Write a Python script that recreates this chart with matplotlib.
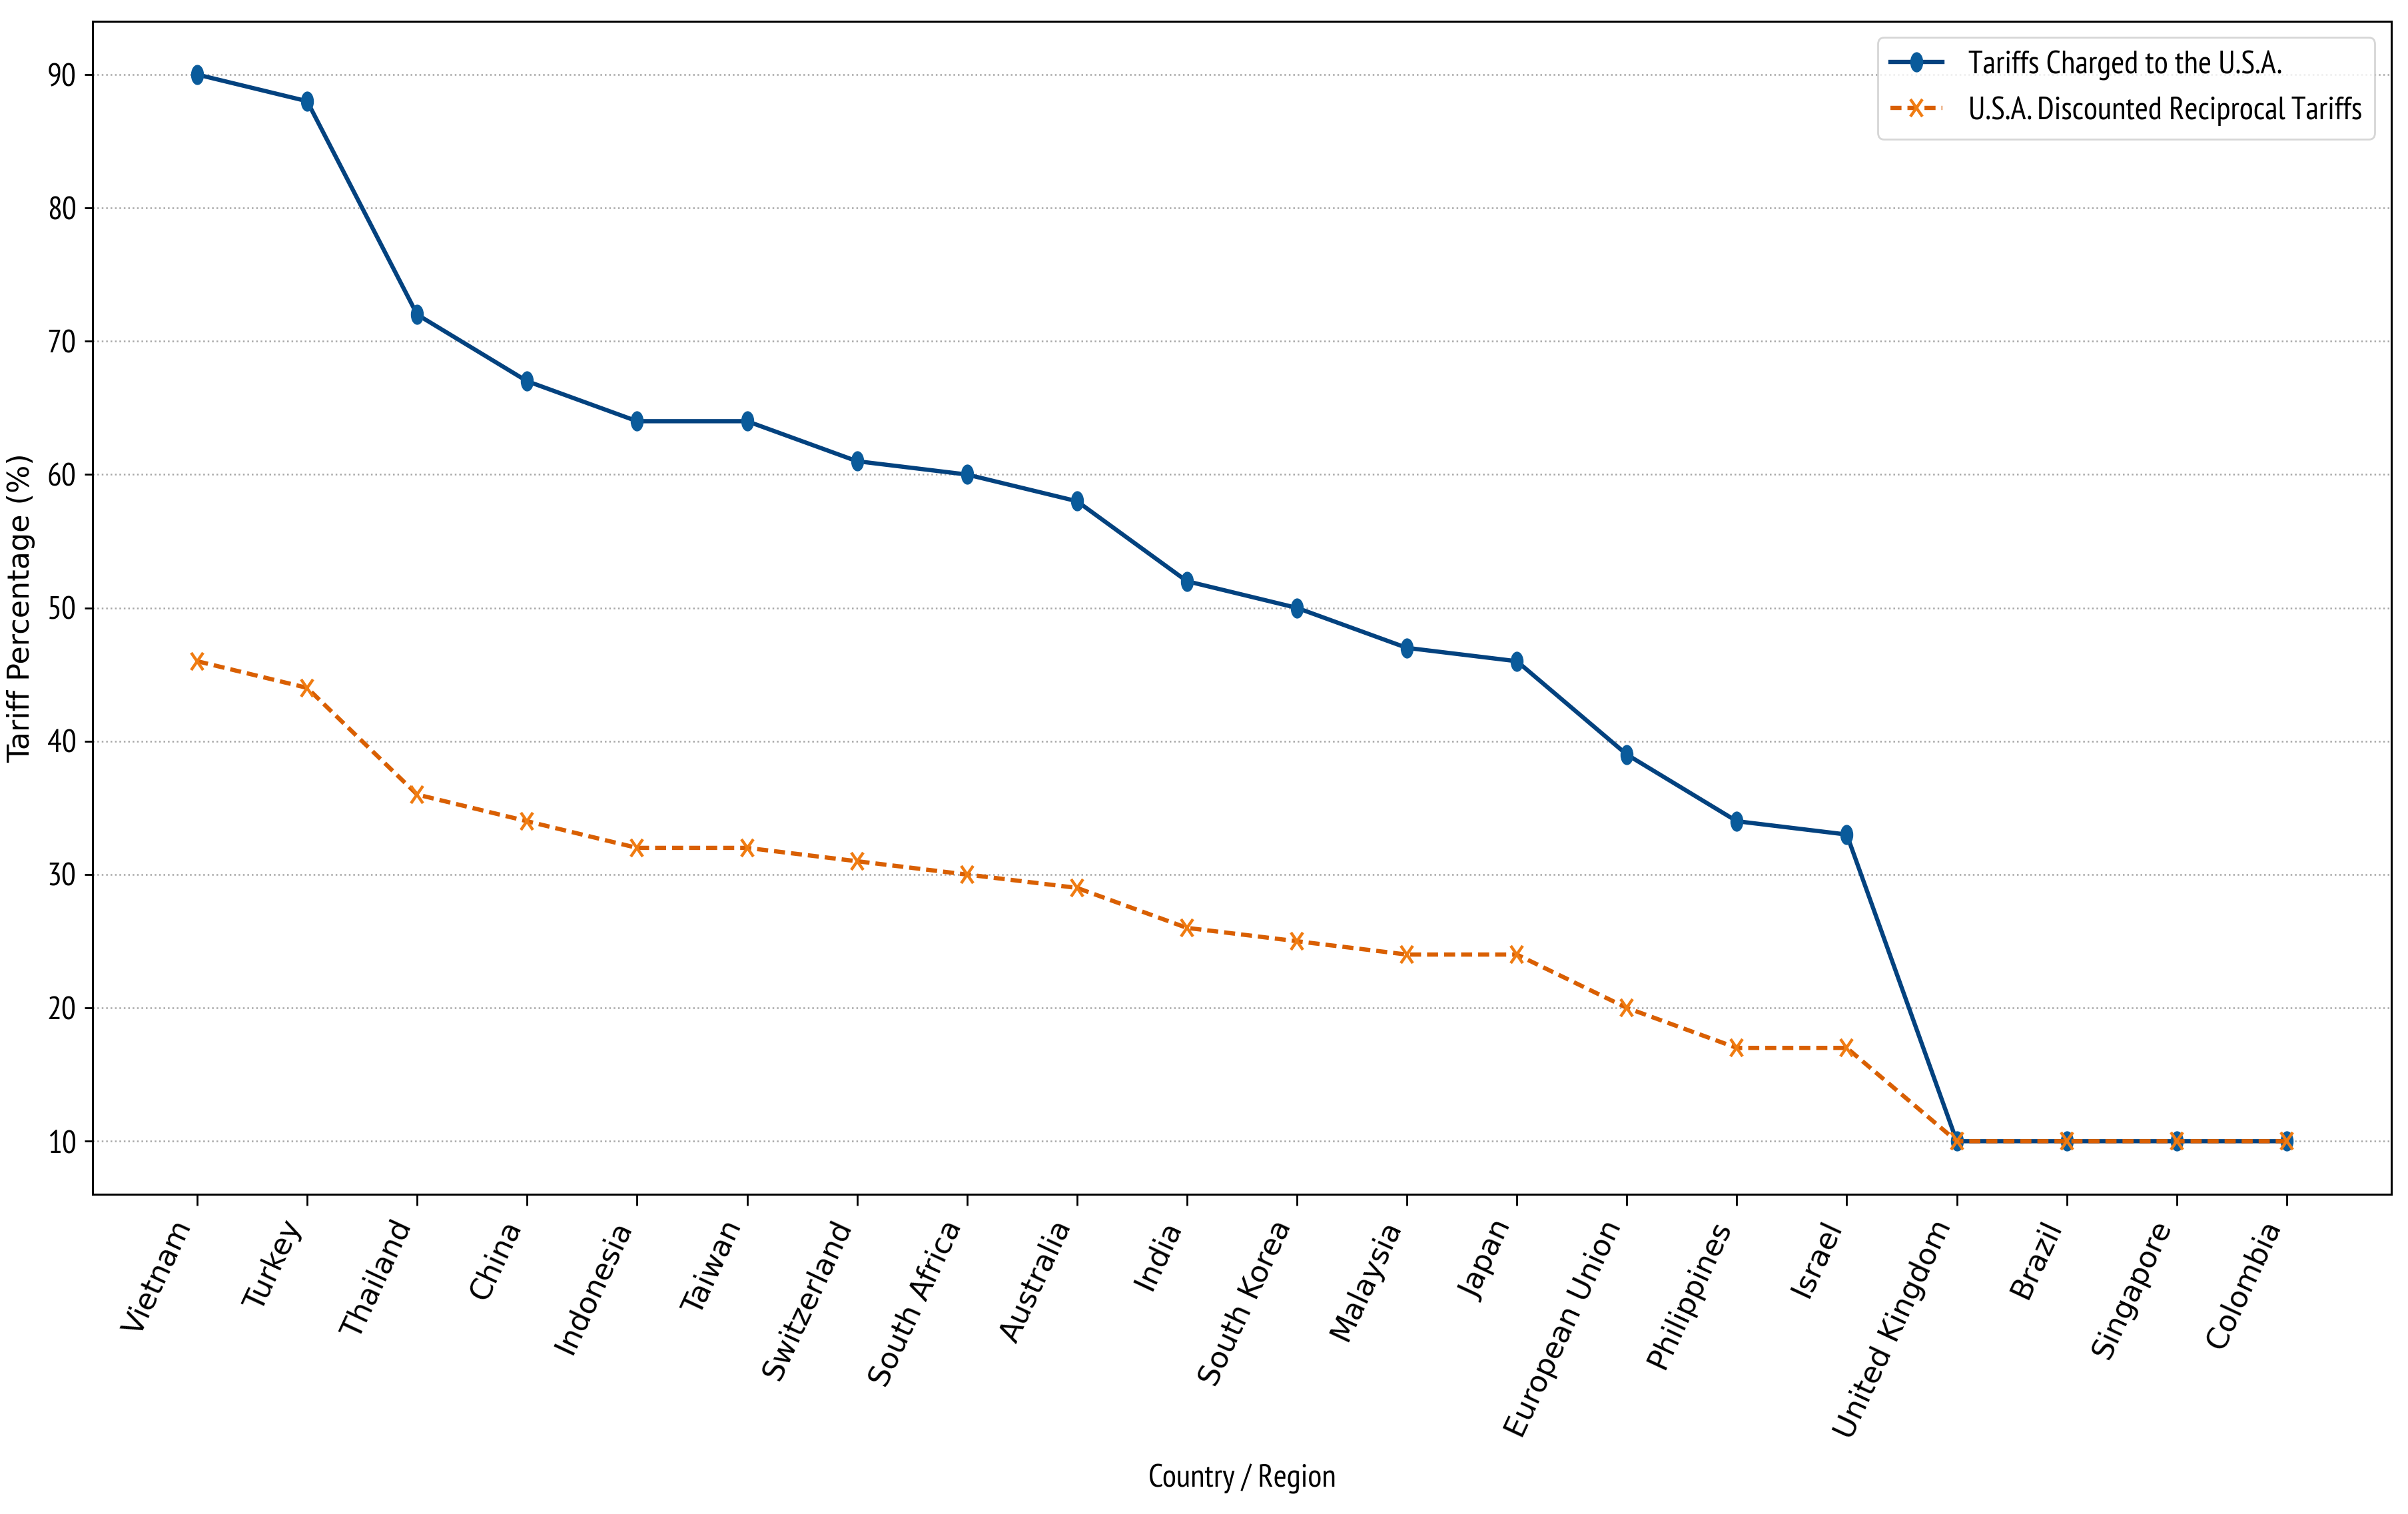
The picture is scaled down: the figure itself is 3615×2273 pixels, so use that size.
import matplotlib.pyplot as plt
from matplotlib.markers import MarkerStyle
from matplotlib.transforms import Affine2D

countries = ["Vietnam", "Turkey", "Thailand", "China", "Indonesia", "Taiwan",
             "Switzerland", "South Africa", "Australia", "India", "South Korea",
             "Malaysia", "Japan", "European Union", "Philippines", "Israel",
             "United Kingdom", "Brazil", "Singapore", "Colombia"]
charged = [90, 88, 72, 67, 64, 64, 61, 60, 58, 52, 50, 47, 46, 39, 34, 33, 10, 10, 10, 10]
reciprocal = [46, 44, 36, 34, 32, 32, 31, 30, 29, 26, 25, 24, 24, 20, 17, 17, 10, 10, 10, 10]

# the reference text looks tall and narrow
narrow = ["PT Sans Narrow", "DejaVu Sans"]

def main():
    fig, ax = plt.subplots(figsize=(36.15, 22.73), dpi=100)
    fig.subplots_adjust(left=0.0385, right=0.993, top=0.986, bottom=0.211)

    xs = list(range(len(countries)))

    ax.plot(xs, charged, color="#03427f", lw=4.6,
            marker=MarkerStyle("o", transform=Affine2D().scale(1.0, 1.6)), ms=13,
            mfc="#0a5b9b", mec="#0a5b9b",
            label="Tariffs Charged to the U.S.A.")
    ax.plot(xs, reciprocal, color="#d95f02", lw=4.6, ls="--", dashes=(2.6, 1.4),
            marker=MarkerStyle("x", transform=Affine2D().scale(1.0, 1.4)),
            ms=13, mew=3.2, mfc="#f07c12", mec="#f07c12",
            label="U.S.A. Discounted Reciprocal Tariffs")

    ax.set_xticks(xs)
    ax.set_xticklabels(countries, rotation=65, ha="right",
                       fontsize=32, family="DejaVu Sans")
    ax.tick_params(axis="x", length=12, width=2, pad=11)
    ax.tick_params(axis="y", length=8.6, width=2, pad=9, labelsize=35)
    for lab in ax.get_yticklabels():
        lab.set_family(narrow)

    ax.set_xlabel("Country / Region", fontsize=35, family=narrow, labelpad=22)
    ax.set_ylabel("Tariff Percentage (%)", fontsize=32, family="DejaVu Sans")
    ax.yaxis.set_label_coords(-0.025, 0.5)

    ax.grid(axis="y", ls=":", lw=1.8, color="#a8a8a8")
    for sp in ax.spines.values():
        sp.set_linewidth(2.2)

    leg = ax.legend(loc="upper right", prop={"family": narrow, "size": 35},
                    handlelength=1.6, borderaxespad=0.5)
    leg.get_frame().set_linewidth(2)

    fig.savefig("out.png", dpi=100)

if __name__ == "__main__":
    main()
